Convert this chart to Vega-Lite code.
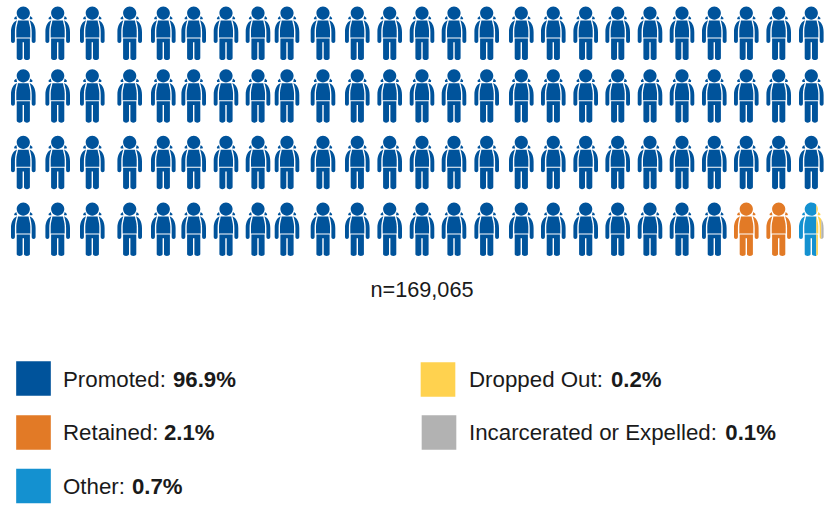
{
"$schema":"https://vega.github.io/schema/vega-lite/v6.json",
"width":836,"height":506,"padding":0,
"autosize":{"type":"fit","contains":"padding"},
"background":"white",
"config":{"view":{"stroke":null},"text":{"font":"Liberation Sans","color":"#1a1a1a"}},
"datasets":{
"people":[
{"col":1,"row":1,"status":"Promoted"},{"col":2,"row":1,"status":"Promoted"},{"col":3,"row":1,"status":"Promoted"},{"col":4,"row":1,"status":"Promoted"},{"col":5,"row":1,"status":"Promoted"},{"col":6,"row":1,"status":"Promoted"},{"col":7,"row":1,"status":"Promoted"},{"col":8,"row":1,"status":"Promoted"},{"col":9,"row":1,"status":"Promoted"},{"col":10,"row":1,"status":"Promoted"},{"col":11,"row":1,"status":"Promoted"},{"col":12,"row":1,"status":"Promoted"},{"col":13,"row":1,"status":"Promoted"},{"col":14,"row":1,"status":"Promoted"},{"col":15,"row":1,"status":"Promoted"},{"col":16,"row":1,"status":"Promoted"},{"col":17,"row":1,"status":"Promoted"},{"col":18,"row":1,"status":"Promoted"},{"col":19,"row":1,"status":"Promoted"},{"col":20,"row":1,"status":"Promoted"},{"col":21,"row":1,"status":"Promoted"},{"col":22,"row":1,"status":"Promoted"},{"col":23,"row":1,"status":"Promoted"},{"col":24,"row":1,"status":"Promoted"},{"col":25,"row":1,"status":"Promoted"},
{"col":1,"row":2,"status":"Promoted"},{"col":2,"row":2,"status":"Promoted"},{"col":3,"row":2,"status":"Promoted"},{"col":4,"row":2,"status":"Promoted"},{"col":5,"row":2,"status":"Promoted"},{"col":6,"row":2,"status":"Promoted"},{"col":7,"row":2,"status":"Promoted"},{"col":8,"row":2,"status":"Promoted"},{"col":9,"row":2,"status":"Promoted"},{"col":10,"row":2,"status":"Promoted"},{"col":11,"row":2,"status":"Promoted"},{"col":12,"row":2,"status":"Promoted"},{"col":13,"row":2,"status":"Promoted"},{"col":14,"row":2,"status":"Promoted"},{"col":15,"row":2,"status":"Promoted"},{"col":16,"row":2,"status":"Promoted"},{"col":17,"row":2,"status":"Promoted"},{"col":18,"row":2,"status":"Promoted"},{"col":19,"row":2,"status":"Promoted"},{"col":20,"row":2,"status":"Promoted"},{"col":21,"row":2,"status":"Promoted"},{"col":22,"row":2,"status":"Promoted"},{"col":23,"row":2,"status":"Promoted"},{"col":24,"row":2,"status":"Promoted"},{"col":25,"row":2,"status":"Promoted"},
{"col":1,"row":3,"status":"Promoted"},{"col":2,"row":3,"status":"Promoted"},{"col":3,"row":3,"status":"Promoted"},{"col":4,"row":3,"status":"Promoted"},{"col":5,"row":3,"status":"Promoted"},{"col":6,"row":3,"status":"Promoted"},{"col":7,"row":3,"status":"Promoted"},{"col":8,"row":3,"status":"Promoted"},{"col":9,"row":3,"status":"Promoted"},{"col":10,"row":3,"status":"Promoted"},{"col":11,"row":3,"status":"Promoted"},{"col":12,"row":3,"status":"Promoted"},{"col":13,"row":3,"status":"Promoted"},{"col":14,"row":3,"status":"Promoted"},{"col":15,"row":3,"status":"Promoted"},{"col":16,"row":3,"status":"Promoted"},{"col":17,"row":3,"status":"Promoted"},{"col":18,"row":3,"status":"Promoted"},{"col":19,"row":3,"status":"Promoted"},{"col":20,"row":3,"status":"Promoted"},{"col":21,"row":3,"status":"Promoted"},{"col":22,"row":3,"status":"Promoted"},{"col":23,"row":3,"status":"Promoted"},{"col":24,"row":3,"status":"Promoted"},{"col":25,"row":3,"status":"Promoted"},
{"col":1,"row":4,"status":"Promoted"},{"col":2,"row":4,"status":"Promoted"},{"col":3,"row":4,"status":"Promoted"},{"col":4,"row":4,"status":"Promoted"},{"col":5,"row":4,"status":"Promoted"},{"col":6,"row":4,"status":"Promoted"},{"col":7,"row":4,"status":"Promoted"},{"col":8,"row":4,"status":"Promoted"},{"col":9,"row":4,"status":"Promoted"},{"col":10,"row":4,"status":"Promoted"},{"col":11,"row":4,"status":"Promoted"},{"col":12,"row":4,"status":"Promoted"},{"col":13,"row":4,"status":"Promoted"},{"col":14,"row":4,"status":"Promoted"},{"col":15,"row":4,"status":"Promoted"},{"col":16,"row":4,"status":"Promoted"},{"col":17,"row":4,"status":"Promoted"},{"col":18,"row":4,"status":"Promoted"},{"col":19,"row":4,"status":"Promoted"},{"col":20,"row":4,"status":"Promoted"},{"col":21,"row":4,"status":"Promoted"},{"col":22,"row":4,"status":"Promoted"},
{"col":23,"row":4,"status":"Retained"},{"col":24,"row":4,"status":"Retained"},
{"col":25,"row":4,"status":"Other"},{"col":25,"row":4,"status":"Dropped Out"},{"col":25,"row":4,"status":"Incarcerated or Expelled"}
],
"key":[
{"slot":1,"status":"Promoted","label":"Promoted:","share":"96.9%"},
{"slot":2,"status":"Retained","label":"Retained:","share":"2.1%"},
{"slot":3,"status":"Other","label":"Other:","share":"0.7%"},
{"slot":4,"status":"Dropped Out","label":"Dropped Out:","share":"0.2%"},
{"slot":5,"status":"Incarcerated or Expelled","label":"Incarcerated or Expelled:","share":"0.1%"}
]
},
"resolve":{"scale":{"x":"independent","y":"independent"}},
"layer":[
{
"data":{"name":"people"},
"mark":{"type":"point","filled":true,"size":4,"opacity":1,"strokeWidth":0},
"encoding":{
"x":{"field":"col","type":"quantitative","axis":null,"scale":{"domain":[1,2,3,4,5,6,7,8,9,10,11,12,13,14,15,16,17,18,19,20,21,22,23,24,25],"range":[23.3,57.7,92.3,129.7,163.3,193.7,226,258,287,323,357.3,389.7,422,454,486.7,521.3,553.3,585.7,617.7,650,682,714.3,746.3,778.7,811.3],"nice":false,"zero":false}},
"y":{"field":"row","type":"quantitative","axis":null,"scale":{"domain":[1,2,3,4],"range":[33.3,96,162.5,229.3],"nice":false,"zero":false}},
"color":{"field":"status","type":"nominal","legend":null,"scale":{"domain":["Promoted","Retained","Other","Dropped Out","Incarcerated or Expelled"],"range":["#00539b","#e27a26","#1491d0","#ffd24f","#b2b2b2"]}},
"shape":{"field":"status","type":"nominal","legend":null,"scale":{"domain":["Promoted","Retained","Other","Dropped Out","Incarcerated or Expelled"],"range":[
"M-6.6,-20.2A6.6,6.6 0 1,1 6.6,-20.2A6.6,6.6 0 1,1 -6.6,-20.2ZM-9.2,-15.4L-7,-17.4L-6.2,-14L-8.9,-14ZM9.2,-15.4L7,-17.4L6.2,-14L8.9,-14ZM-5.3,-12.7L5.3,-12.7C5.6,-9.5 7,-7 7,-3L7,4.2L-7,4.2L-7,-3C-7,-7 -5.6,-9.5 -5.3,-12.7ZM-6.4,-13C-9.6,-11.5 -12.3,-8 -12.3,-1L-12.3,7.8A1.95,1.95 0 0,0 -8.4,7.8L-8.4,-1C-8.4,-5 -7.7,-9 -6.4,-13ZM6.4,-13C9.6,-11.5 12.3,-8 12.3,-1L12.3,7.8A1.95,1.95 0 0,1 8.4,7.8L8.4,-1C8.4,-5 7.7,-9 6.4,-13ZM-6.6,5.2L6.6,5.2L6.6,24.6C6.6,27.4 0.7,27.4 0.7,24.6L0.7,9L-0.7,9L-0.7,24.6C-0.7,27.4 -6.6,27.4 -6.6,24.6Z",
"M-6.6,-20.2A6.6,6.6 0 1,1 6.6,-20.2A6.6,6.6 0 1,1 -6.6,-20.2ZM-9.2,-15.4L-7,-17.4L-6.2,-14L-8.9,-14ZM9.2,-15.4L7,-17.4L6.2,-14L8.9,-14ZM-5.3,-12.7L5.3,-12.7C5.6,-9.5 7,-7 7,-3L7,4.2L-7,4.2L-7,-3C-7,-7 -5.6,-9.5 -5.3,-12.7ZM-6.4,-13C-9.6,-11.5 -12.3,-8 -12.3,-1L-12.3,7.8A1.95,1.95 0 0,0 -8.4,7.8L-8.4,-1C-8.4,-5 -7.7,-9 -6.4,-13ZM6.4,-13C9.6,-11.5 12.3,-8 12.3,-1L12.3,7.8A1.95,1.95 0 0,1 8.4,7.8L8.4,-1C8.4,-5 7.7,-9 6.4,-13ZM-6.6,5.2L6.6,5.2L6.6,24.6C6.6,27.4 0.7,27.4 0.7,24.6L0.7,9L-0.7,9L-0.7,24.6C-0.7,27.4 -6.6,27.4 -6.6,24.6Z",
"M5,-24.5A6.6,6.6 0 1,0 5,-15.9ZM-9.2,-15.4L-7,-17.4L-6.2,-14L-8.9,-14ZM-5.3,-12.7L5,-12.7L5,4.2L-7,4.2L-7,-3C-7,-7 -5.6,-9.5 -5.3,-12.7ZM-6.4,-13C-9.6,-11.5 -12.3,-8 -12.3,-1L-12.3,7.8A1.95,1.95 0 0,0 -8.4,7.8L-8.4,-1C-8.4,-5 -7.7,-9 -6.4,-13ZM-6.6,5.2L5,5.2L5,26.6C3.5,26.9 0.7,26.4 0.7,24.6L0.7,9L-0.7,9L-0.7,24.6C-0.7,27.4 -6.6,27.4 -6.6,24.6Z",
"M5,-24.5A6.6,6.6 0 0,1 5,-15.9ZM9.2,-15.4L7,-17.4L6.2,-14L8.9,-14ZM5,-12.7L5.3,-12.7C5.6,-9.5 7,-7 7,-3L7,4.2L5,4.2ZM5,5.2L6.6,5.2L6.6,24.6C6.6,25.6 5.8,26.2 5,26.6ZM6.4,-13C8,-12.2 9,-11.5 10,-10L10,9.6C9.1,9.6 8.4,8.8 8.4,7.8L8.4,-1C8.4,-5 7.7,-9 6.4,-13Z",
"M10,-10C11.4,-8 12.3,-5 12.3,-1L12.3,7.8C12.3,9.1 11,9.7 10,9.6Z"
]}}
}
},
{
"data":{"values":[{"col":13,"row":5,"caption":"n=169,065"}]},
"mark":{"type":"text","align":"center","baseline":"middle","fontSize":21.7},
"encoding":{
"x":{"field":"col","type":"quantitative","axis":null,"scale":{"domain":[1,25],"range":[23,821],"nice":false,"zero":false}},
"y":{"field":"row","type":"quantitative","axis":null,"scale":{"domain":[4,5],"range":[229.3,289.8],"nice":false,"zero":false}},
"text":{"field":"caption"}
}
},
{
"data":{"name":"key"},
"mark":{"type":"point","filled":true,"shape":"square","size":1200,"opacity":1,"strokeWidth":0},
"encoding":{
"x":{"field":"slot","type":"quantitative","axis":null,"scale":{"domain":[1,2,3,4,5],"range":[33.5,33.5,33.5,438,439],"nice":false,"zero":false}},
"y":{"field":"slot","type":"quantitative","axis":null,"scale":{"domain":[1,2,3,4,5],"range":[378.5,432.5,486,379.5,432.5],"nice":false,"zero":false}},
"color":{"field":"status","type":"nominal","legend":null,"scale":{"domain":["Promoted","Retained","Other","Dropped Out","Incarcerated or Expelled"],"range":["#00539b","#e27a26","#1491d0","#ffd24f","#b2b2b2"]}}
}
},
{
"data":{"name":"key"},
"mark":{"type":"text","align":"left","baseline":"middle","fontSize":22.3},
"encoding":{
"x":{"field":"slot","type":"quantitative","axis":null,"scale":{"domain":[1,2,3,4,5],"range":[63,63,63,469,469],"nice":false,"zero":false}},
"y":{"field":"slot","type":"quantitative","axis":null,"scale":{"domain":[1,2,3,4,5],"range":[379.8,432.8,486.8,379.8,432.8],"nice":false,"zero":false}},
"text":{"field":"label"}
}
},
{
"data":{"name":"key"},
"mark":{"type":"text","align":"left","baseline":"middle","fontSize":22.2,"fontWeight":"bold"},
"encoding":{
"x":{"field":"slot","type":"quantitative","axis":null,"scale":{"domain":[1,2,3,4,5],"range":[173,164,132,611,725.3],"nice":false,"zero":false}},
"y":{"field":"slot","type":"quantitative","axis":null,"scale":{"domain":[1,2,3,4,5],"range":[379.8,432.8,486.8,379.8,432.8],"nice":false,"zero":false}},
"text":{"field":"share"}
}
}
]
}
